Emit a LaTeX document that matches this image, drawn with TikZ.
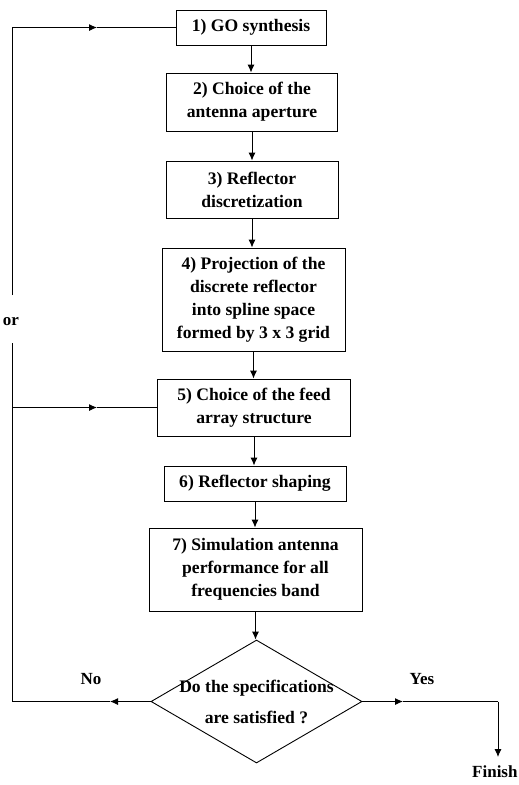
\documentclass[tikz,border=0pt]{standalone}
\usepackage{fontspec}
\setmainfont{Liberation Serif}
\usetikzlibrary{shapes.geometric,arrows.meta}
\begin{document}
\begin{tikzpicture}[x=1pt,y=-1pt,
  line width=0.9pt,
  txt/.style={font=\bfseries\fontsize{17.6}{23}\selectfont, align=center},
  stepbox/.style={draw, line width=0.9pt, inner sep=0pt, txt},
  arr/.style={-{Latex[length=8pt,width=7pt]}},
  lbl/.style={font=\bfseries\fontsize{17}{20}\selectfont, inner sep=0pt}]
\useasboundingbox (0,0) rectangle (519,785);
\fill[white] (0,0) rectangle (519,785);

\node[stepbox, minimum width=150pt, minimum height=35pt] (b1) at (251,27.5) {1) GO synthesis};
\node[stepbox, minimum width=171pt, minimum height=58pt] (b2) at (252,102) {2) Choice of the\\antenna aperture};
\node[stepbox, minimum width=172pt, minimum height=57pt] (b3) at (252,189.5) {3) Reflector\\discretization};
\node[stepbox, minimum width=183pt, minimum height=103pt] (b4) at (253.5,299.5) {4) Projection of the\\discrete reflector\\into spline space\\formed by 3 x 3 grid};
\node[stepbox, minimum width=193pt, minimum height=57pt] (b5) at (254,407.5) {5) Choice of the feed\\array structure};
\node[stepbox, minimum width=182pt, minimum height=35pt] (b6) at (255,483.5) {6) Reflector shaping};
\node[stepbox, minimum width=213pt, minimum height=83pt] (b7) at (255.5,569.5) {7) Simulation antenna\\performance for all\\frequencies band};
\node[diamond, draw, line width=0.9pt, inner sep=0pt, minimum width=211pt, minimum height=123pt] (d) at (256.5,701.5) {};
\node[font=\bfseries\fontsize{17.6}{31}\selectfont, align=center] (dt) at (d.center) {Do the specifications\\are satisfied ?};

% vertical chain
\draw[arr] (b1.south) -- (b1.south |- b2.north);
\draw[arr] (b2.south) -- (b2.south |- b3.north);
\draw[arr] (b3.south) -- (b3.south |- b4.north);
\draw[arr] (b4.south) -- (b4.south |- b5.north);
\draw[arr] (b5.south) -- (b5.south |- b6.north);
\draw[arr] (b6.south) -- (b6.south |- b7.north);
\draw[arr] (b7.south) -- (b7.south |- d.north);

% loop back (No)
\coordinate (nl) at (12,701.5);
\coordinate (na) at (110,701.5);
\coordinate (orlow) at (12,343);
\coordinate (orhigh) at (12,295);
\coordinate (tl) at (12,27.5);
\coordinate (ta) at (97,27.5);
\coordinate (fl) at (12,407.5);
\coordinate (fa) at (97,407.5);
\draw[arr] (d.west) -- (na);
\draw (na) -- (nl) -- (orlow);
\draw (orhigh) -- (tl);
\draw[arr] (tl) -- (ta);
\draw (ta) -- (b1.west);
\draw[arr] (fl) -- (fa);
\draw (fa) -- (b5.west);
\node[lbl] (or) at (11,322) {or};
\node[lbl] (no) at (91,679) {No};

% Yes branch
\coordinate (ya) at (403,701.5);
\coordinate (yc) at (498,701.5);
\coordinate (ye) at (498,757);
\draw[arr] (d.east) -- (ya);
\draw (ya) -- (yc);
\draw[arr] (yc) -- (ye);
\node[lbl] (yes) at (422,679) {Yes};
\node[lbl, anchor=east] (fin) at (518,772) {Finish};
\end{tikzpicture}
\end{document}
